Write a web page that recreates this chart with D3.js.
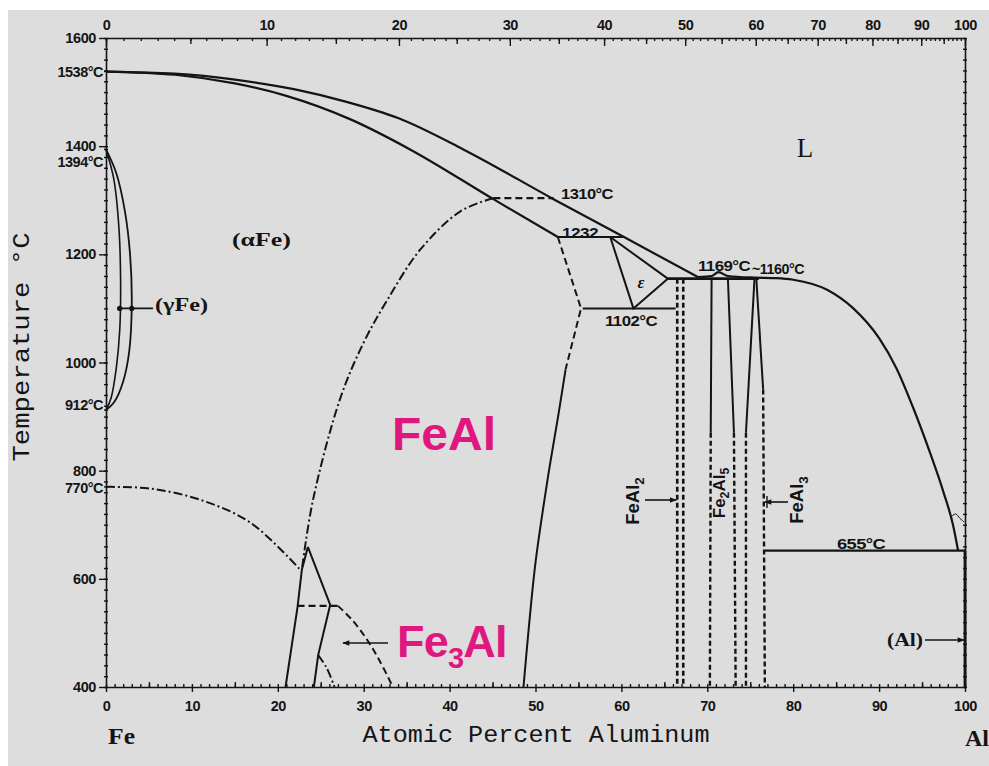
<!DOCTYPE html>
<html><head><meta charset="utf-8">
<script src="https://cdn.jsdelivr.net/npm/d3@7"></script>
<style>body{margin:0;background:#fff}svg{display:block}</style>
</head><body>
<script>
// ---------- data ----------
const atomicTicks = [0,10,20,30,40,50,60,70,80,90,100];
const weightTicks = [0,10,20,30,40,50,60,70,80,90,100];
const tempTicks = [400,600,800,1000,1200,1400,1600];
const keyTemps = [1538,1394,912,770];
const keyTempLabels = ["1538°C","1394°C","912°C","770°C"];

// boundaries as [atomic % Al, temperature °C]
const liquidusFe = [[0,1538],[8,1534],[15,1523],[22,1505],[28,1482],[34,1452],[41.6,1394],[52.1,1302],[60.3,1232],[68.9,1158]];
const solidusFe  = [[0,1538],[8,1532],[15,1516],[21,1493],[28.4,1450],[35.4,1394],[45.1,1302],[52.6,1232]];
const liquidusAl = [[68.9,1158],[70.5,1160],[71.3,1167],[72.4,1160],[75.5,1157],[78,1156],[80,1153],[84,1134],[87,1100],[90,1045],[92,990],[94,915],[96,830],[97.5,760],[98.6,700],[99.2,652]];
const alCurl     = [[98.3,713],[98.9,720],[99.4,712],[99.9,705]];
const gammaOuter = [[0,1394],[1.2,1350],[2.2,1280],[2.8,1200],[3.0,1110],[2.7,1020],[2.0,965],[1.0,928],[0,912]];
const gammaInner = [[0,1394],[0.9,1340],[1.5,1250],[1.7,1150],[1.6,1060],[1.2,990],[0.6,935],[0,912]];
const curieLine  = [[0,770],[5.1,767],[11,746],[16.8,704],[22.6,617]];
const orderA2B2  = [[45.1,1304],[41.3,1280],[36.6,1209],[32.8,1117],[30.0,1037],[27.3,935],[24.1,746],[22.8,617]];
const fe3AlLeft  = [[20.9,400],[22.3,548],[22.8,617],[23.5,659]];
const fe3AlRight = [[23.5,659],[26.1,552],[24.7,459],[24.2,400]];
const fe3AlInner = [[24.7,459],[25.7,435],[26.6,400]];
const fe3AlOuter = [[27.0,550],[28.6,525],[30.2,492],[31.8,450],[33.4,400]];
const feAlSolid  = [[53.5,987],[52.7,907],[51.4,783],[50.0,630],[49.2,506],[48.6,400]];
const feAlDashed = [[52.6,1232],[55.3,1100],[53.5,987]];
const epsilonLow = [[58.7,1232],[61.4,1100],[65.4,1155]];
const epsilonTop = [[58.7,1232],[65.4,1155]];
const iso1310 = [[45.1,1304],[52.1,1304]];
const iso1232 = [[52.6,1232],[60.3,1232]];
const iso1102 = [[55.5,1100],[66.3,1100]];
const iso1160 = [[65.4,1155],[76.0,1155]];
const iso655  = [[76.7,652],[100,652]];
const iso550  = [[22.3,550],[27.0,550]];
const feAl2A = [[66.5,1155],[66.5,400]];
const feAl2B = [[67.2,1155],[67.2,400]];
const fe2Al5LeftSolid  = [[70.5,1155],[70.4,870]];
const fe2Al5LeftDash   = [[70.4,870],[70.3,400]];
const fe2Al5RightSolid = [[72.4,1155],[73.1,870]];
const fe2Al5RightDash  = [[73.1,870],[73.3,400]];
const feAl3LeftSolid   = [[75.5,1157],[74.5,870]];
const feAl3LeftDash    = [[74.5,870],[74.5,400]];
const feAl3RightSolid  = [[75.7,1157],[76.5,950]];
const feAl3RightDash   = [[76.5,950],[76.7,400]];
const alSolvus = [[100,652],[100,400]];

// ---------- layout ----------
const W = 989, H = 766;
const svg = d3.select("body").append("svg").attr("width", W).attr("height", H);
svg.append("rect").attr("x", 8).attr("y", 10).attr("width", W - 8).attr("height", H - 10).attr("fill", "#dddddd");

const x = d3.scaleLinear().domain([0, 100]).range([106, 965]);
const y = d3.scaleLinear().domain([400, 1600]).range([687, 38]);
const wtToAt = w => { const a = w / 26.98, f = (100 - w) / 55.85; return w >= 100 ? 100 : 100 * a / (a + f); };
const wtFine = d3.range(0, 101, 1);
const xTop = d3.scaleLinear().domain(wtFine).range(wtFine.map(w => x(wtToAt(w))));

const ink = "#141414";
const tickFont = "'Liberation Sans', Arial, sans-serif";
const serif = "'Liberation Serif', 'DejaVu Serif', serif";
const mono = "'Liberation Mono', 'DejaVu Sans Mono', monospace";
const fmt = d3.format("d");

function styleAxis(g) {
  g.selectAll("path.domain").attr("stroke", ink).attr("stroke-width", 1.6);
  g.selectAll(".tick line").attr("stroke", ink).attr("stroke-width", 1.4);
  g.selectAll("text").attr("fill", ink).attr("font-family", tickFont).attr("font-weight", "bold").attr("font-size", 14.5).attr("letter-spacing", -0.4);
}

// minor ticks
const minorT = d3.range(400, 1601, 20);
const gl = svg.append("g").attr("transform", `translate(${x(0) + 2},0)`).call(d3.axisLeft(y).tickValues(minorT).tickSize(4).tickFormat(""));
gl.select(".domain").remove(); styleAxis(gl);
const gr = svg.append("g").attr("transform", `translate(${x(100) + 2},0)`).call(d3.axisLeft(y).tickValues(minorT).tickSize(4).tickFormat(""));
gr.select(".domain").remove(); styleAxis(gr);
const gbm = svg.append("g").attr("transform", `translate(0,${y(400)})`).call(d3.axisBottom(x).tickValues(d3.range(0, 101, 1)).tickSize(-3).tickFormat(""));
gbm.select(".domain").remove(); styleAxis(gbm);
const gbm5 = svg.append("g").attr("transform", `translate(0,${y(400)})`).call(d3.axisBottom(x).tickValues(d3.range(5, 100, 10)).tickSize(-5).tickFormat(""));
gbm5.select(".domain").remove(); styleAxis(gbm5);
const gtm = svg.append("g").attr("transform", `translate(0,${y(1600)})`).call(d3.axisTop(xTop).tickValues(wtFine).tickSize(-3).tickFormat(""));
gtm.select(".domain").remove(); styleAxis(gtm);
const gtm5 = svg.append("g").attr("transform", `translate(0,${y(1600)})`).call(d3.axisTop(xTop).tickValues(d3.range(5, 100, 10)).tickSize(-6).tickFormat(""));
gtm5.select(".domain").remove(); styleAxis(gtm5);

// major axes
const gb = svg.append("g").attr("transform", `translate(0,${y(400)})`)
  .call(d3.axisBottom(x).tickValues(atomicTicks).tickFormat(fmt).tickSize(5).tickPadding(9).tickSizeOuter(0));
styleAxis(gb);
const gt = svg.append("g").attr("transform", `translate(0,${y(1600)})`)
  .call(d3.axisTop(xTop).tickValues(weightTicks).tickFormat(fmt).tickSize(-8).tickPadding(8).tickSizeOuter(0));
styleAxis(gt);
gt.selectAll(".tick text").attr("y", -8);
const gL = svg.append("g").attr("transform", `translate(${x(0)},0)`)
  .call(d3.axisLeft(y).tickValues(tempTicks).tickFormat(fmt).tickSize(7).tickPadding(3).tickSizeOuter(0));
styleAxis(gL);
const gR = svg.append("g").attr("transform", `translate(${x(100)},0)`)
  .call(d3.axisRight(y).tickValues(tempTicks).tickSize(0).tickFormat("").tickSizeOuter(0));
styleAxis(gR);

// key temperatures on the left axis
const keyOffsets = [0, 13, -5, 1];
keyTemps.forEach((t, i) => {
  svg.append("text").attr("x", x(0) - 3).attr("y", y(t) + keyOffsets[i]).attr("dy", "0.35em")
    .attr("text-anchor", "end").attr("font-family", tickFont).attr("font-weight", "bold")
    .attr("font-size", 14.5).attr("letter-spacing", -0.5).attr("fill", ink).text(keyTempLabels[i]);
  svg.append("line").attr("x1", x(0) - 2).attr("x2", x(0) + 2).attr("y1", y(t)).attr("y2", y(t)).attr("stroke", ink).attr("stroke-width", 1.4);
});

// ---------- boundaries ----------
const lineGen = (curve) => d3.line().x(d => x(d[0])).y(d => y(d[1])).curve(curve || d3.curveLinear);
const plot = svg.append("g").attr("fill", "none").attr("stroke", ink).attr("stroke-linecap", "butt");
function draw(data, opt) {
  opt = opt || {};
  plot.append("path").datum(data).attr("d", lineGen(opt.curve)(data))
    .attr("stroke-width", opt.w || 2).attr("stroke-dasharray", opt.dash || null);
}
const smooth = d3.curveCatmullRom.alpha(0.5);
const DASH = "7,4", DASHDOT = "9,3,2,3", FINE = "5,3";

draw(liquidusFe, {curve: d3.curveMonotoneX, w: 2.2});
draw(solidusFe, {curve: d3.curveMonotoneX, w: 2.2});
draw(liquidusAl, {curve: d3.curveMonotoneX, w: 2.2});
draw(alCurl, {curve: smooth, w: 1});
draw(gammaOuter, {curve: smooth, w: 1.8});
draw(gammaInner, {curve: smooth, w: 1.6});
draw(curieLine, {curve: smooth, w: 2, dash: DASHDOT});
draw(orderA2B2, {curve: smooth, w: 2, dash: DASHDOT});
draw(fe3AlLeft, {w: 2});
draw(fe3AlRight, {w: 2});
draw(fe3AlInner, {curve: smooth, w: 2, dash: DASHDOT});
draw(fe3AlOuter, {curve: smooth, w: 2, dash: DASH});
draw(feAlSolid, {curve: smooth, w: 2});
draw(feAlDashed, {w: 2, dash: DASH});
draw(epsilonLow, {w: 2});
draw(epsilonTop, {w: 2});
draw(iso1310, {w: 2.2, dash: DASH});
draw(iso1232, {w: 2});
draw(iso1102, {w: 2});
draw(iso1160, {w: 2.6});
draw(iso655, {w: 2.2});
draw(iso550, {w: 2.2, dash: DASH});
draw(feAl2A, {w: 2.6, dash: FINE});
draw(feAl2B, {w: 2.6, dash: FINE});
draw(fe2Al5LeftSolid, {w: 2});
draw(fe2Al5LeftDash, {w: 2.4, dash: FINE});
draw(fe2Al5RightSolid, {w: 2});
draw(fe2Al5RightDash, {w: 2.4, dash: FINE});
draw(feAl3LeftSolid, {w: 2});
draw(feAl3LeftDash, {w: 2.4, dash: FINE});
draw(feAl3RightSolid, {w: 2});
draw(feAl3RightDash, {w: 2.4, dash: FINE});
draw(alSolvus, {w: 2.8});

// ---------- arrows / markers ----------
const defs = svg.append("defs");
defs.append("marker").attr("id", "ah").attr("viewBox", "0 0 10 10").attr("refX", 9).attr("refY", 5)
  .attr("markerWidth", 9).attr("markerHeight", 7).attr("markerUnits", "userSpaceOnUse").attr("orient", "auto")
  .append("path").attr("d", "M0,1 L10,5 L0,9 Z").attr("fill", ink);
function arrow(x1, y1, x2, y2) {
  svg.append("line").attr("x1", x1).attr("y1", y1).attr("x2", x2).attr("y2", y2)
    .attr("stroke", ink).attr("stroke-width", 1.6).attr("marker-end", "url(#ah)");
}
// gamma Fe pointer
svg.append("line").attr("x1", x(1.3)).attr("x2", 153).attr("y1", y(1100)).attr("y2", y(1100)).attr("stroke", ink).attr("stroke-width", 1.6);
[1.6, 3.0].forEach(a => svg.append("circle").attr("cx", x(a)).attr("cy", y(1100)).attr("r", 2.6).attr("fill", ink));
arrow(645, 500, x(66.5) - 1, 500);
arrow(788, 502, x(76.6) + 1, 502);
svg.append("line").attr("x1", x(76.6) + 3).attr("x2", x(76.6) + 3).attr("y1", 496).attr("y2", 508).attr("stroke", ink).attr("stroke-width", 1.4);
arrow(925, 640, x(100) - 1, 640);
arrow(388, 643, 343, 643);

// ---------- text ----------
function txt(xp, yp, s, o) {
  o = o || {};
  const t = svg.append("text").attr("x", xp).attr("y", yp).attr("fill", o.fill || ink)
    .attr("font-family", o.family || tickFont).attr("font-size", o.size || 14.5)
    .attr("font-weight", o.weight || "bold").attr("text-anchor", o.anchor || "start");
  if (o.ls != null) t.attr("letter-spacing", o.ls);
  if (o.style) t.attr("font-style", o.style);
  if (o.len) t.attr("textLength", o.len).attr("lengthAdjust", "spacingAndGlyphs");
  if (o.rotate) t.attr("transform", `rotate(${o.rotate},${xp},${yp})`);
  t.text(s);
  return t;
}
txt(561, 199, "1310°C", {ls: -0.5, len: 52});
txt(562, 238, "1232", {ls: -0.5, len: 36});
txt(605, 326, "1102°C", {ls: -0.5, len: 52});
txt(698, 271, "1169°C", {ls: -0.5, len: 52});
txt(752, 274, "~1160°C", {ls: -0.5, len: 52});
txt(837, 549, "655°C", {ls: -0.5, len: 48});
txt(641, 288, "ε", {family: serif, size: 17, style: "italic", anchor: "middle"});
txt(232, 246, "(αFe)", {family: serif, size: 19, len: 59});
txt(155, 311, "(γFe)", {family: serif, size: 18, len: 53});
txt(923, 646, "(Al)", {family: serif, size: 18, anchor: "end", len: 36});
txt(805, 157, "L", {family: serif, size: 27, weight: "normal", anchor: "middle"});
txt(108, 744, "Fe", {family: serif, size: 24, len: 27});
txt(965, 746, "Al", {family: serif, size: 24, len: 24});
txt(536, 742, "Atomic Percent Aluminum", {family: mono, size: 24, weight: "normal", anchor: "middle", len: 347});
txt(29, 347, "Temperature °C", {family: mono, size: 24, weight: "normal", anchor: "middle", len: 229, rotate: -90});

// rotated phase labels with subscripts
function formula(cx, cy, parts, size) {
  const t = svg.append("text").attr("transform", `translate(${cx},${cy}) rotate(-90)`)
    .attr("text-anchor", "middle").attr("dominant-baseline", "middle")
    .attr("font-family", tickFont).attr("font-weight", "bold").attr("font-size", size).attr("fill", ink);
  parts.forEach(p => {
    const s = t.append("tspan").text(p[0]);
    if (p[1]) s.attr("font-size", size * 0.72).attr("dy", size * 0.3);
    else if (p[2]) s.attr("dy", -size * 0.3);
  });
}
formula(634, 501, [["FeAl"], ["2", true]], 18.5);
formula(721, 493, [["Fe"], ["2", true], ["Al", false, true], ["5", true]], 17);
formula(798, 500, [["FeAl"], ["3", true]], 18.5);

// big pink labels
const pink = "#e0177f";
txt(392, 450, "FeAl", {family: tickFont, size: 47, fill: pink, len: 104});
const f3 = svg.append("text").attr("x", 397).attr("y", 657).attr("fill", pink)
  .attr("font-family", tickFont).attr("font-weight", "bold").attr("font-size", 45).attr("letter-spacing", -0.8);
f3.append("tspan").text("Fe");
f3.append("tspan").text("3").attr("font-size", 29).attr("dy", 11);
f3.append("tspan").text("Al").attr("dy", -11);
</script>
</body></html>
